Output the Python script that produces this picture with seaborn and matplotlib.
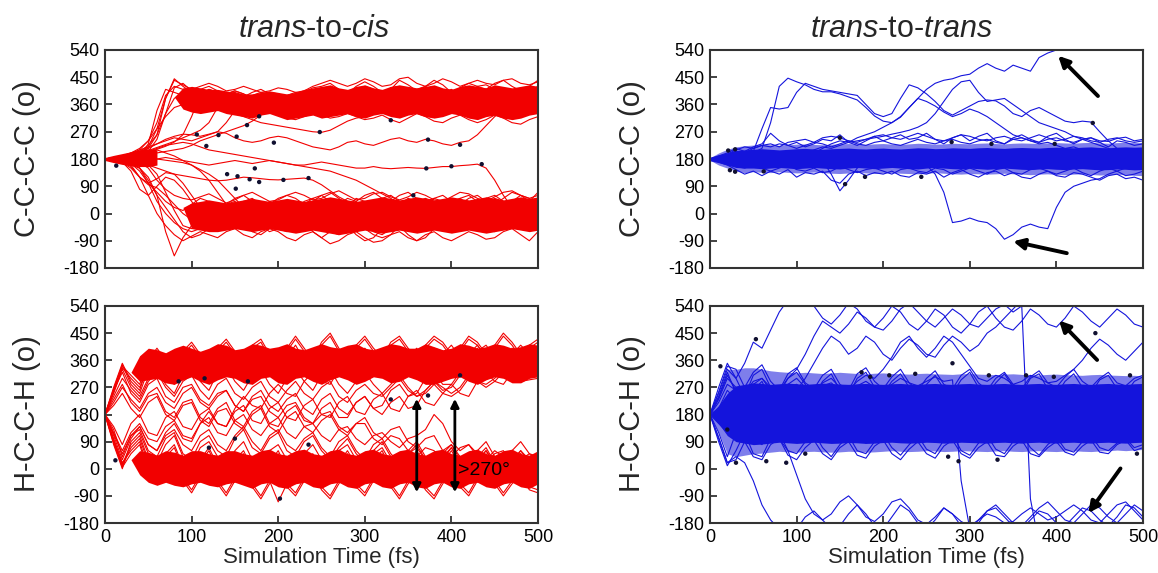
import numpy as np
import pandas as pd
import matplotlib
matplotlib.use("Agg")
import matplotlib.pyplot as plt
import seaborn as sns

sns.set_style("white")
plt.rcParams["font.family"] = ["Liberation Sans", "DejaVu Sans"]
plt.rcParams["mathtext.fontset"] = "custom"
plt.rcParams["mathtext.rm"] = "Liberation Sans"
plt.rcParams["mathtext.it"] = "Liberation Sans:italic"
plt.rcParams["axes.unicode_minus"] = False

# ---------------- data (time step 10 fs) ----------------
TIME = list(range(0, 501, 10))
X_TICKS = [0, 100, 200, 300, 400, 500]
Y_TICKS = [-180, -90, 0, 90, 180, 270, 360, 450, 540]

# --- trans-to-cis, C-C-C-C ---
tc_c1 = [180,182,185,190,200,215,260,380,445,420, 400,405,395,385,370,360,365,380,370,355, 345,350,365,380,400,390,370,360,380,400, 410,395,370,350,360,385,400,410,390,370, 360,375,395,410,400,380,360,350,370,390, 380]
tc_c2 = [178,175,170,160,150,120,60,-60,-140,-80, -40,-20,10,30,20,-10,-40,-50,-30,0, 30,40,20,-20,-60,-80,-60,-20,20,50, 40,10,-30,-50,-40,-10,20,40,30,0, -30,-50,-40,-10,20,40,30,0,-30,-40, -20]
tc_c3 = [182,178,170,140,80,60,90,120,110,80, 40,0,-30,-50,-40,-10,20,30,10,-20, -40,-30,0,30,50,60,40,0,-40,-70, -90,-80,-50,-10,30,50,40,10,-20,-50, -60,-40,-10,20,50,60,40,10,-20,-40, -30]
tc_c4 = [180,185,190,200,210,220,230,240,250,245, 240,250,260,270,265,250,240,235,240,250, 255,250,240,230,220,215,210,220,235,240, 230,225,235,245,250,240,235,245,240,230, 225,235,240,260,290,320,340,350,360,355, 345]
tc_c5 = [180,178,176,175,170,175,180,185,180,175, 170,165,160,165,170,175,170,165,170,175, 170,165,160,160,165,170,165,160,155,150, 150,155,150,148,150,152,150,149,152,155, 155,158,160,163,150,110,60,20,0,10, 20]
tc_c6 = [180,183,186,190,195,205,215,225,230,235, 230,220,210,205,200,195,190,185,180,175, 170,165,160,155,150,145,140,130,120,110, 95,80,65,50,30,10,-10,-20,-10,10, 30,40,30,10,-10,-20,-10,10,30,40, 30]
tc_c7 = [180,178,175,172,168,160,150,140,130,125, 120,115,110,108,110,115,120,118,115,112, 111,113,115,117,110,95,75,55,40,30, 20,10,0,-10,0,20,40,50,40,20, 0,-20,-30,-20,0,20,30,20,0,-20, -10]
tc_c8 = [180,182,185,188,192,196,200,205,210,215, 225,240,250,260,270,280,290,305,325,345, 360,370,375,370,360,350,345,355,370,385, 395,390,375,360,355,365,380,395,400,390, 375,360,350,355,370,385,395,390,375,360, 365]
tc_c9 = [180,185,190,195,205,225,260,330,380,400, 395,380,370,355,340,330,320,310,300,295, 290,285,280,275,270,268,275,290,305,315, 320,330,345,360,370,365,350,335,325,330, 345,360,370,365,350,335,325,330,345,360, 370]
tc_c10 = [180,176,172,168,150,110,60,20,-20,-60, -80,-70,-50,-20,10,30,40,30,0,-30, -50,-60,-50,-20,10,40,50,40,10,-20, -50,-70,-80,-70,-40,-10,20,40,50,40, 10,-20,-40,-50,-40,-20,10,40,60,50, 30]
tc_c11 = [180,183,188,195,210,240,300,390,420,410, 400,410,420,405,395,400,390,380,390,400, 395,385,390,400,415,420,430,410,395,420, 435,420,400,410,440,425,405,420,440,425, 400,415,430,420,410,430,440,420,405,420, 440]
tc_c12 = [180,184,190,200,215,240,280,320,350,360, 345,335,340,350,345,335,325,320,330,340, 330,315,310,320,330,325,315,320,330,320, 310,315,325,310,300,315,330,320,305,300, 315,325,310,300,310,325,315,300,295,310, 320]
tc_c13 = [180,178,174,165,140,100,70,40,20,10, 30,50,40,20,30,50,60,40,20,30, 50,60,50,30,40,60,70,50,30,40, 60,70,50,40,60,70,50,30,50,60, 40,30,50,60,40,30,50,70,60,40, 70]
tc_c14 = [180,176,170,155,120,60,0,-40,-70,-90, -75,-60,-70,-80,-60,-50,-70,-80,-60,-50, -60,-80,-90,-70,-60,-80,-100,-90,-70,-60, -80,-95,-90,-70,-60,-80,-90,-70,-60,-80, -90,-75,-60,-70,-85,-80,-60,-50,-70,-90, -60]
tc_c15 = [180,181,183,186,190,230,340,410,400,390, 380,395,410,400,385,375,385,400,410,395, 380,370,360,355,365,380,395,405,390,370, 360,375,395,415,420,400,380,370,385,400, 410,395,375,365,380,400,415,405,385,370, 375]
tc_c16 = [180,176,168,150,120,95,85,60,30,0, -20,-40,-30,0,30,40,20,-10,-40,-60, -50,-20,10,40,50,30,0,-30,-50,-40, -10,20,40,30,0,-30,-50,-40,-10,20, 40,50,30,0,-30,-50,-40,-20,0,20, 10]
tc_c17 = [180,184,188,195,205,215,230,245,255,262, 260,255,262,270,300,340,370,390,400,395, 380,370,375,390,405,410,395,380,370,380, 395,410,405,390,375,365,375,390,400,395, 380,370,380,395,410,400,385,375,385,400, 390]
tc_c18 = [180,178,180,185,190,200,210,200,190,175, 160,145,130,110,80,50,20,0,-10,0, 20,30,10,-20,-40,-30,0,30,40,20, -10,-40,-60,-50,-20,10,30,20,-10,-30, -20,10,30,40,20,-10,-30,-40,-20,10, 30]
tc_c19 = [180,182,186,190,196,204,212,222,236,260, 320,390,410,400,385,370,360,350,345,355, 370,385,395,390,375,360,350,345,360,380, 400,410,395,375,360,350,365,385,400,405, 390,370,355,350,365,385,400,410,395,375, 360]
tc_c20 = [180,184,188,193,200,208,218,228,238,250, 262,275,300,350,395,405,395,380,370,360, 350,345,355,370,385,400,410,400,385,370, 355,350,360,380,395,405,395,380,365,355, 360,375,390,400,395,380,365,360,370,385, 400]
tc_c21 = [180,181,184,188,194,205,245,330,415,430, 405,385,375,380,395,405,395,380,370,365, 375,390,400,395,380,365,355,365,385,405, 420,410,390,375,380,395,410,420,405,385, 370,380,400,420,425,410,390,375,385,405, 420]
tc_c22 = [180,178,176,173,170,160,130,70,10,-40, -50,-30,0,20,10,-20,-40,-30,0,30, 40,20,-10,-40,-50,-30,0,30,50,40, 10,-20,-40,-30,0,30,50,40,10,-20, -40,-50,-30,0,30,50,40,20,-10,-30, -20]
tc_c23 = [180,176,170,160,120,100,115,135,130,100, 60,20,-10,-30,-20,10,40,50,30,0, -20,-30,-10,20,40,30,0,-30,-50,-40, -10,20,50,60,40,10,-20,-40,-30,0, 30,50,60,40,10,-20,-40,-30,0,30, 40]
tc_c24 = [180,182,184,185,186,184,180,176,172,168, 160,140,110,70,30,0,-20,-10,20,40, 30,0,-30,-50,-40,-10,20,40,30,0, -30,-60,-70,-50,-20,10,30,20,-10,-40, -50,-30,0,30,50,40,10,-20,-40,-50, -30]
tc_c25 = [180,177,172,165,150,100,40,0,-30,-50, -60,-50,-20,10,20,0,-30,-60,-70,-50, -20,10,30,20,-10,-40,-60,-70,-50,-20, 10,30,20,-10,-40,-70,-90,-80,-50,-20, 10,30,10,-20,-50,-60,-40,-10,20,30, 10]
tc_c26 = [180,179,177,174,168,150,110,80,60,50, 45,55,65,50,35,45,60,70,55,40, 45,60,70,60,45,50,65,75,60,45, 50,65,70,55,45,55,70,60,45,40, 55,70,65,50,40,55,70,75,60,50, 60]
tc_c27 = [180,183,187,192,200,220,280,380,440,425, 410,420,430,420,405,410,420,410,400,405, 415,410,400,405,420,430,440,430,420,430, 445,435,420,425,445,450,430,420,430,445, 435,420,430,440,430,425,440,445,430,425, 435]
# dense cores (lower / upper edges)
tc_c_start_lo = [175,168,162,158,155,155,160]          # t = 0..60
tc_c_start_hi = [185,192,198,204,210,214,210]
tc_c_up_lo = [385,345,335,330,335,340,330,325,320,315,325, 330,320,310,315,320,325,315,320,325,330, 320,315,325,330,320,315,325,330,320,315, 320,330,325,315,310,320,325,315,310,315, 325,330]  # t = 80..500
tc_c_up_hi = [385,415,420,415,410,410,405,400,395,395,400, 405,400,395,400,410,415,420,425,415,410, 420,425,415,410,420,425,420,415,420,425, 415,410,420,425,420,415,425,420,415,420, 425,420]
tc_c_low_lo = [20,-50,-55,-60,-60,-55,-50,-55,-60,-55,-50, -55,-60,-65,-60,-55,-60,-65,-70,-65,-60, -55,-60,-65,-60,-55,-60,-65,-60,-55,-60, -65,-60,-55,-60,-65,-60,-55,-50,-55,-60, -55]  # t = 90..500
tc_c_low_hi = [20,35,40,45,40,35,40,45,50,45,40, 45,50,45,40,45,50,55,50,45,40, 45,50,55,50,45,50,55,50,45,50, 55,50,45,50,55,50,45,50,55,50, 55]
tc_c_hop_t = [13,106,131,117,152,164,178,195,248,330,373,410,173,141,153,167,178,151,206,235,371,400,435,356]
tc_c_hop_y = [158,261,259,223,254,292,321,234,269,308,244,227,149,130,123,113,104,82,111,117,149,156,163,60]

# --- trans-to-cis, H-C-C-H ---
tc_h1 = [180,270,350,290,260,350,380,330,300,360, 390,340,310,370,400,350,320,380,400,340, 310,370,410,360,320,380,400,350,310,360, 400,370,320,350,400,380,330,350,400,390, 340,330,380,410,370,330,360,400,390,340, 350]
tc_h2 = [180,260,340,310,280,360,400,360,330,390, 420,380,350,400,430,390,350,410,430,380, 350,400,440,400,360,420,450,400,360,410, 440,400,370,420,440,400,370,410,440,420, 380,400,440,420,380,410,450,420,380,410, 430]
tc_h3 = [180,250,330,270,240,300,330,280,250,310, 340,290,260,320,340,290,260,310,330,280, 250,300,330,290,260,310,330,280,250,290, 320,280,250,280,310,270,240,260,290,270, 250,270,310,290,270,290,320,300,290,295, 300]
tc_h4 = [180,90,10,70,100,20,-20,40,70,0, -40,20,60,0,-40,20,50,-10,-50,10, 50,-10,-50,10,40,-20,-50,10,50,0, -40,20,50,-10,-50,10,50,0,-40,20, 60,10,-40,10,50,0,-50,0,50,20, -30]
tc_h5 = [180,100,20,60,90,0,-40,10,40,-30, -70,-20,20,-40,-80,-30,10,-50,-90,-40, -110,-50,-80,-30,0,-60,-90,-40,0,-50, -80,-30,10,-50,-90,-40,-10,-60,-90,-40, 0,-50,-80,-30,10,-40,-80,-40,-10,-60, -70]
tc_h6 = [180,80,0,90,120,50,20,80,110,40, 10,70,90,40,0,60,90,30,10,60, 80,30,0,50,80,30,10,60,80,30, 0,50,70,20,0,50,70,30,10,60, 80,40,10,60,90,40,20,60,90,50, 40]
tc_h7 = [180,110,30,100,140,80,60,120,150,100, 90,150,190,150,140,200,240,210,200,250, 280,250,240,290,320,290,280,330,360,320, 310,360,390,350,330,370,400,360,340,380, 410,370,350,390,410,370,350,380,410,380, 360]
tc_h8 = [180,260,320,250,220,280,300,240,220,270, 280,230,210,250,260,210,190,230,240,190, 170,210,220,170,150,180,190,140,120,150, 150,100,80,110,100,60,40,70,60,20, 0,30,40,0,-20,20,30,-10,-30,10, 20]
tc_h9 = [180,230,280,220,190,240,250,190,170,220, 230,170,150,200,220,160,140,190,210,150, 140,190,210,160,150,200,220,170,170,220, 240,200,210,260,280,240,250,300,320,280, 280,320,350,310,300,340,370,330,320,350, 380]
tc_h10 = [180,120,60,120,150,100,90,140,160,110, 100,150,170,120,110,160,180,130,110,150, 170,120,100,140,150,110,90,130,140,100, 80,110,120,90,70,100,110,130,180,150, 90,60,80,50,30,60,40,10,30,50, 20]
tc_h11 = [180,240,300,260,230,290,320,270,240,290, 310,260,230,280,300,250,230,270,290,240, 220,260,290,250,230,270,290,240,220,260, 280,250,240,270,300,260,240,250,280,250, 240,260,300,290,280,300,330,310,300,320, 340]
tc_h12 = [180,130,40,110,130,60,40,100,120,50, 30,90,110,60,40,100,130,70,50,100, 120,60,40,90,110,60,30,70,100,50, 20,60,90,40,10,50,80,30,0,40, 70,20,-10,30,60,20,-20,20,50,10, -10]
tc_h13 = [180,265,345,280,250,330,370,310,280,340, 380,330,290,350,390,340,300,360,390,330, 300,350,390,350,310,360,395,345,300,345, 390,360,310,340,385,370,320,340,385,380, 330,320,370,400,360,320,350,390,380,330, 340]
tc_h14 = [180,255,335,300,270,340,390,350,320,380, 410,370,340,390,420,380,340,400,420,370, 340,390,430,390,350,410,440,390,350,400, 430,390,360,410,430,390,360,400,430,410, 370,390,430,410,370,400,440,410,370,400, 420]
tc_h15 = [180,95,15,80,110,30,-10,50,80,10, -30,30,70,10,-30,30,60,0,-40,20, 60,0,-40,20,50,-10,-40,20,60,10, -30,30,60,0,-40,20,60,10,-30,30, 70,20,-30,20,60,10,-40,10,60,30, -20]
tc_h16 = [180,85,5,50,80,-10,-50,0,30,-40, -80,-30,10,-50,-90,-40,0,-60,-100,-50, -10,-60,-90,-40,-10,-70,-100,-50,-10,-60, -90,-40,0,-60,-100,-50,-20,-70,-100,-50, -10,-60,-90,-40,0,-50,-90,-50,-20,-70, -80]
tc_h17 = [180,140,80,150,180,120,110,170,190,140, 130,180,200,150,140,190,210,160,150,200, 220,170,160,210,230,180,170,220,240,190, 180,230,250,200,190,240,260,220,210,250, 280,250,240,290,320,290,280,320,350,330, 320]
tc_h18 = [180,210,250,200,170,220,240,180,160,210, 220,160,140,190,200,150,130,180,200,140, 120,170,190,140,120,160,180,130,110,150, 170,120,100,130,140,90,70,100,110,60, 40,70,80,40,20,50,60,20,0,30, 40]
tc_h19 = [180,220,270,230,200,250,270,220,200,250, 270,220,200,240,260,210,190,240,260,210, 190,230,250,200,180,230,250,200,180,220, 240,200,180,220,240,200,210,260,290,260, 270,310,340,310,300,340,370,340,330,360, 380]
tc_h20 = [180,115,50,110,140,80,60,110,130,80, 60,110,130,80,60,110,140,90,60,110, 130,80,60,100,120,70,40,90,110,60, 30,80,100,50,20,60,90,40,10,50, 80,30,0,40,70,20,-10,30,60,20, 0]
tc_h_up_lo = [320,290,295,300,285,280,295,305,290,280,295, 305,300,285,280,300,305,285,280,300,305, 290,280,295,305,295,280,290,305,300,285, 290,305,295,280,280,290,300,305,290,280, 295,305,300,285,285,300,305]  # t = 30..500
tc_h_up_hi = [320,375,400,395,385,400,410,400,390,400, 415,410,395,400,415,410,400,405,415,400, 395,405,415,405,400,410,415,400,395,405, 415,410,400,400,415,405,395,400,415,410, 400,405,415,410,400,405,415,410]
tc_h_low_lo = [30,-20,-45,-55,-45,-55,-60,-50,-45,-55, -60,-50,-45,-55,-65,-50,-45,-60,-65,-50, -45,-60,-65,-50,-45,-60,-65,-50,-45,-60, -65,-50,-45,-60,-65,-50,-45,-60,-65,-50, -45,-60,-65,-50,-45,-60,-65,-50]
tc_h_low_hi = [30,60,55,45,60,55,45,60,60,50, 45,60,60,50,45,60,65,50,45,60, 65,50,45,60,65,50,45,60,65,50, 45,60,65,50,45,60,65,50,45,60, 65,50,45,60,65,50,45,60]
tc_h_hop_t = [12,85,115,165,202,235,330,373,410,150,120]
tc_h_hop_y = [28,290,300,290,-99,80,230,243,310,100,70]

# --- trans-to-trans, C-C-C-C ---
tt_c1 = [180,178,185,190,180,175,190,200,185,180, 195,210,200,215,230,240,235,250,260,270, 285,300,320,350,380,410,430,440,445,455, 460,480,495,480,470,490,480,470,515,530, 540,560,580,600,620,640,660,680,700,720, 740]
tt_c2 = [180,182,178,185,190,200,215,300,420,447, 435,425,410,402,402,395,385,375,350,322, 305,300,318,350,380,370,355,335,320,330, 345,335,320,300,280,260,250,240,230,235, 225,215,220,210,205,200,195,200,195,190, 195]
tt_c3 = [180,183,180,186,192,205,280,350,345,350, 400,430,420,410,405,400,395,390,360,330, 320,330,380,425,415,395,370,340,325,340, 355,370,375,372,355,330,320,340,350,335, 320,305,300,305,302,270,240,215,205,200, 195]
tt_c4 = [180,178,182,186,183,180,185,190,195,200, 205,200,210,220,215,225,235,240,245,250, 255,262,268,275,285,300,330,370,410,435, 440,400,370,375,380,360,340,320,300,290, 280,270,255,245,235,225,215,205,200,195, 190]
tt_c5 = [180,175,182,178,185,180,176,183,180,178, 182,185,180,176,180,184,181,178,182,186, 184,180,176,172,168,160,130,70,-30,-25, -15,-25,-30,-50,-85,-70,-45,-35,-45,-50, 20,70,90,100,110,115,130,140,150,160, 165]
tt_c6 = [180,190,200,215,205,220,230,265,240,225, 235,220,230,245,240,260,235,225,240,255, 240,250,260,245,250,265,245,230,250,260, 240,255,265,240,230,250,260,245,235,255, 265,245,230,245,250,235,220,240,235,225, 230]
tt_c7 = [180,170,160,145,130,140,125,140,130,145, 120,135,130,140,110,100,130,140,125,135, 130,140,125,120,135,130,140,120,135,145, 130,120,135,140,125,135,120,115,130,140, 125,120,135,130,120,110,125,130,115,120, 110]
tt_c8 = [180,175,185,190,180,170,175,185,190,180, 175,170,180,175,130,75,110,150,165,175, 180,170,165,175,185,180,170,160,165,175, 185,180,170,165,175,180,170,165,175,185, 180,170,165,170,180,175,165,160,170,180, 175]
tt_c9 = [180,185,195,205,200,215,225,230,220,235, 240,245,235,250,255,250,240,235,245,255, 260,250,245,255,265,255,245,240,250,260, 255,245,240,250,255,245,240,250,260,250, 240,245,255,250,240,235,245,250,240,235, 240]
tt_c10 = [180,176,168,155,150,160,150,140,150,160, 145,140,150,135,140,155,145,135,145,150, 140,130,145,150,140,135,150,145,130,140, 150,140,130,145,150,135,130,145,150,140, 130,140,150,135,125,140,150,140,125,130, 140]
tt_c11 = [180,186,196,210,220,215,225,220,230,225, 215,225,235,230,220,230,240,230,225,235, 240,230,225,235,245,235,230,240,245,235, 230,240,245,235,230,245,250,240,235,245, 250,240,235,245,250,240,238,248,252,240, 245]
tt_c_lo = [174,168,160,152,150,150,148,150,152,150, 148,150,152,150,148,147,150,152,150,148, 150,152,150,148,147,150,152,150,148,147, 150,148,146,148,150,148,146,145,147,148, 146,145,147,148,146,144,145,147,146,144, 145]
tt_c_hi = [186,194,200,208,210,212,214,212,210,212, 214,215,213,212,214,215,216,214,213,215, 216,214,213,215,217,216,214,215,217,216, 215,217,218,216,215,217,218,217,216,218, 219,218,217,219,220,218,217,219,220,219, 220]
tt_c_lo2 = [176,160,150,140,135,138,136,135,138,136, 134,135,137,135,133,132,134,136,134,132, 134,135,133,132,131,133,135,133,131,130, 132,131,130,131,133,131,130,128,130,131, 129,128,130,131,129,127,128,130,128,126, 125]
tt_c_hi2 = [184,200,212,220,224,226,228,227,225,227, 229,230,228,227,229,230,231,229,228,230, 231,229,228,230,232,231,229,230,232,231, 230,232,233,231,230,232,233,232,231,233, 234,233,232,234,235,233,232,234,235,234, 235]
tt_c_hop_t = [21,29,23,29,62,150,156,179,244,279,325,398,442]
tt_c_hop_y = [208,212,143,138,139,250,97,121,121,236,230,230,299]

# --- trans-to-trans, H-C-C-H ---
tt_h1 = [180,270,350,300,240,310,330,270,250,300, 320,280,240,290,315,260,245,300,320,270, 250,290,315,270,240,280,310,265,250,295, 320,270,245,285,315,270,250,300,315,265, 245,290,315,270,250,295,310,265,250,290, 305]
tt_h2 = [180,90,10,60,120,50,40,100,120,60, 50,90,120,70,40,80,110,60,50,90, 115,70,45,80,110,65,50,95,115,60, 45,85,110,65,50,90,115,70,45,80, 105,65,55,90,110,70,60,85,100,70, 80]
tt_h3 = [180,240,320,250,200,260,290,230,210,260, 280,230,200,250,270,220,205,255,275,225, 210,250,270,225,205,245,270,220,210,250, 270,225,205,245,265,220,210,255,270,225, 210,250,265,225,215,250,270,230,215,245, 260]
tt_h4 = [180,120,40,120,160,100,80,130,150,110, 90,130,150,110,90,125,150,105,85,120, 145,110,95,125,150,105,90,130,150,110, 95,125,145,105,90,125,150,110,95,130, 145,105,95,125,140,110,100,125,140,110, 120]
tt_h5 = [180,255,340,330,270,320,345,290,260,315, 335,285,265,310,330,280,260,315,335,290, 265,305,330,285,260,300,325,280,265,310, 330,285,260,300,320,280,265,305,325,285, 270,305,330,290,270,300,320,285,275,300, 310]
tt_h6 = [180,105,20,30,90,40,30,80,100,45, 30,70,95,50,30,70,90,45,35,75, 95,50,30,65,90,50,35,75,95,50, 35,70,90,45,40,75,95,50,40,70, 90,55,45,75,95,55,50,80,95,60, 70]
tt_h7 = [180,250,330,300,350,420,400,460,520,560, 600,580,540,500,480,510,550,530,490,470, 500,540,520,480,460,490,530,510,470,450, 480,520,540,500,470,460,490,530,510,480, 470,500,540,520,490,470,500,530,510,480, 470]
tt_h8 = [180,200,260,230,210,240,250,220,210,240, 260,300,350,400,440,420,380,400,440,420, 380,360,400,430,410,380,370,410,440,420, 390,410,450,470,500,530,560,580,600,620, 640,660,680,700,720,740,760,780,800,820, 840]
tt_h9 = [180,100,20,40,20,-40,-120,-170,-200,-220, -200,-160,-140,-170,-200,-190,-150,-120,-150,-190, -200,-160,-120,-140,-180,-200,-170,-130,-150,-190, -210,-180,-140,-130,-160,-190,-200,-170,-140,-150, -180,-190,-160,-130,-140,-170,-190,-160,-120,-130, -160]
tt_h10 = [180,150,120,130,110,100,120,110,100,60, -20,-100,-150,-170,-150,-110,-90,-120,-160,-175, -150,-110,-100,-130,-170,-185,-160,-130,-150,-175, -190,-170,-150,-160,-180,-175,-150,-130,-150,-170, -160,-140,-120,-140,-170,-180,-150,-120,-110,-140, -170]
tt_h11 = [180,220,280,260,240,270,280,250,240,270, 280,260,250,275,285,260,250,275,290,270, 260,280,300,285,275,290,305,290,295,-40, -200,-170,-140,-120,-150,-180,-190,-160,-130,-110, -140,-170,-180,-150,-120,-130,-160,-180,-150,-120, -140]
tt_h12 = [180,230,300,270,250,290,300,270,260,300, 330,380,440,490,470,450,480,520,500,470, 460,490,530,550,520,490,470,500,530,510, 480,470,500,530,545,520,540,-100,-250,-300, -320,-340,-360,-380,-400,-420,-440,-460,-480,-500, -520]
tt_h13 = [180,235,310,260,230,280,300,260,240,280, 300,270,250,285,300,270,260,290,310,300, 330,370,420,440,400,370,400,440,420,380, 340,300,290,310,300,280,290,310,300,285, 290,310,330,360,400,430,410,380,360,390, 420]
tt_h_lo = [180,150,110,90,85,80,82,85,88,86,84,86,88, 86,84,85,87,86,84,85,87,88,86, 85,86,88,87,85,86,88,87,86,85, 87,88,86,85,87,88,86,85,87,88, 86,85,87,88,86,85,87,88]  # t = 0..500
tt_h_hi = [180,210,250,275,280,285,283,280,282,284,282,280,282, 284,283,281,280,282,283,281,280,282,283, 281,280,282,283,281,280,282,283,281,280, 282,283,281,280,282,283,281,280,282,283, 281,280,282,283,281,280,282,283]
tt_h_lo2 = [180,120,50,40,45,50,52,55,58,56,55,57,58, 56,55,56,58,57,55,56,58,60,58, 57,58,60,59,57,58,60,59,58,57, 59,60,58,57,59,60,58,57,59,60, 58,57,59,60,62,60,62,64]
tt_h_hi2 = [180,250,330,330,335,335,330,325,322,320,318,320,318, 316,318,320,318,316,315,317,318,316,315, 314,316,317,315,314,313,315,316,314,313, 312,314,315,313,312,311,313,314,312,311, 310,312,313,311,310,309,310,308]
tt_h_hop_t = [53,12,20,30,65,88,110,175,185,207,237,275,280,287,322,332,365,397,445,485,493]
tt_h_hop_y = [430,340,130,20,25,20,50,320,305,310,315,40,350,25,310,30,310,305,450,310,50]

# annotations (arrow tip, arrow tail)
tt_c_arrows = [((402, 521), (448, 388)), ((350, -92), (412, -131))]
tt_h_arrows = [((403, 492), (447, 361)), ((437, -147), (474, 1))]
tc_h_double_arrows = [(360, -78, 232), (404, -78, 232)]

RED = "#f20000"
BLUE = "#1414dc"


def long_df(trajs):
    rows = []
    for k, vals in enumerate(trajs):
        for t, v in zip(TIME, vals):
            rows.append((k, t, v))
    return pd.DataFrame(rows, columns=["traj", "t", "angle"])


fig = plt.figure(figsize=(11.58, 5.73), dpi=100)
W, H = 1158, 573
def axpos(x0, x1, y0, y1):
    return [x0 / W, 1 - y1 / H, (x1 - x0) / W, (y1 - y0) / H]

ax_tl = fig.add_axes(axpos(105, 538, 50, 268))
ax_bl = fig.add_axes(axpos(105, 538, 306, 523))
ax_tr = fig.add_axes(axpos(710, 1143, 50, 268))
ax_br = fig.add_axes(axpos(710, 1143, 306, 523))


def draw(ax, trajs, color, fills, hop_t, hop_y):
    for (t0, lo, hi, a) in fills:
        i0 = TIME.index(t0)
        tt = TIME[i0:i0 + len(lo)]
        ax.fill_between(tt, lo[:len(tt)], hi[:len(tt)], color=color, lw=0, alpha=a, zorder=1)
    sns.lineplot(data=long_df(trajs), x="t", y="angle", units="traj",
                 estimator=None, color=color, linewidth=0.8, ax=ax,
                 legend=False, zorder=2)
    sns.scatterplot(x=hop_t, y=hop_y, color="#101030", s=10, ax=ax,
                    edgecolor="none", zorder=5, legend=False)


draw(ax_tl, [tc_c1, tc_c2, tc_c3, tc_c4, tc_c5, tc_c6, tc_c7, tc_c8, tc_c9,
             tc_c10, tc_c11, tc_c12, tc_c13, tc_c14, tc_c15, tc_c16, tc_c17, tc_c18,
             tc_c19, tc_c20, tc_c21, tc_c22, tc_c23, tc_c24, tc_c25, tc_c26, tc_c27],
     RED, [(0, tc_c_start_lo, tc_c_start_hi, 1.0), (80, tc_c_up_lo, tc_c_up_hi, 1.0),
           (90, tc_c_low_lo, tc_c_low_hi, 1.0)], tc_c_hop_t, tc_c_hop_y)
draw(ax_bl, [tc_h1, tc_h2, tc_h3, tc_h4, tc_h5, tc_h6, tc_h7, tc_h8, tc_h9,
             tc_h10, tc_h11, tc_h12, tc_h13, tc_h14, tc_h15, tc_h16, tc_h17,
             tc_h18, tc_h19, tc_h20],
     RED, [(30, tc_h_up_lo, tc_h_up_hi, 1.0), (30, tc_h_low_lo, tc_h_low_hi, 1.0)],
     tc_h_hop_t, tc_h_hop_y)
draw(ax_tr, [tt_c1, tt_c2, tt_c3, tt_c4, tt_c5, tt_c6, tt_c7, tt_c8, tt_c9,
             tt_c10, tt_c11],
     BLUE, [(0, tt_c_lo2, tt_c_hi2, 0.55), (0, tt_c_lo, tt_c_hi, 1.0)],
     tt_c_hop_t, tt_c_hop_y)
draw(ax_br, [tt_h1, tt_h2, tt_h3, tt_h4, tt_h5, tt_h6, tt_h7, tt_h8, tt_h9,
             tt_h10, tt_h11, tt_h12, tt_h13],
     BLUE, [(0, tt_h_lo2, tt_h_hi2, 0.55), (0, tt_h_lo, tt_h_hi, 1.0)],
     tt_h_hop_t, tt_h_hop_y)

for ax in (ax_tl, ax_bl, ax_tr, ax_br):
    ax.set_xlim(0, 500)
    ax.set_ylim(-180, 540)
    ax.set_xticks(X_TICKS)
    ax.set_yticks(Y_TICKS)
    ax.set_xlabel("")
    ax.set_ylabel("")
    ax.tick_params(direction="in", length=5, width=1.2, labelsize=13,
                   top=False, right=False, left=True, bottom=True,
                   pad=4, colors="#222222", labelcolor="black")
    for s in ax.spines.values():
        s.set_linewidth(1.5)
        s.set_color("#333333")
        s.set_zorder(6)

for ax in (ax_tl, ax_tr):
    ax.tick_params(labelbottom=False)
for ax in (ax_bl, ax_br):
    ax.set_xlabel("Simulation Time (fs)", fontsize=16, labelpad=1)

for ax, arrows in ((ax_tr, tt_c_arrows), (ax_br, tt_h_arrows)):
    for tip, tail in arrows:
        ax.annotate("", xy=tip, xytext=tail,
                    arrowprops=dict(arrowstyle="-|>", color="black", lw=2.8,
                                    mutation_scale=16, shrinkA=0, shrinkB=0),
                    zorder=7)
for (tx, y0, y1) in tc_h_double_arrows:
    ax_bl.annotate("", xy=(tx, y1), xytext=(tx, y0),
                   arrowprops=dict(arrowstyle="<|-|>", color="black", lw=2.0,
                                   mutation_scale=12, shrinkA=0, shrinkB=0),
                   zorder=7)
ax_bl.text(408, -5, ">270°", fontsize=14, va="center", ha="left", color="black", zorder=8)

fig.text(314 / W, 1 - 37 / H, r"$\it{trans}$-to-$\it{cis}$", fontsize=22,
         ha="center", va="baseline")
fig.text(901 / W, 1 - 37 / H, r"$\it{trans}$-to-$\it{trans}$", fontsize=22,
         ha="center", va="baseline")
for x, y, lab in ((27, 159, "C-C-C-C (o)"), (27, 414, "H-C-C-H (o)"),
                  (632, 159, "C-C-C-C (o)"), (632, 414, "H-C-C-H (o)")):
    fig.text(x / W, 1 - y / H, lab, fontsize=21, rotation=90,
             ha="center", va="center")

fig.savefig("out.png", dpi=100)
